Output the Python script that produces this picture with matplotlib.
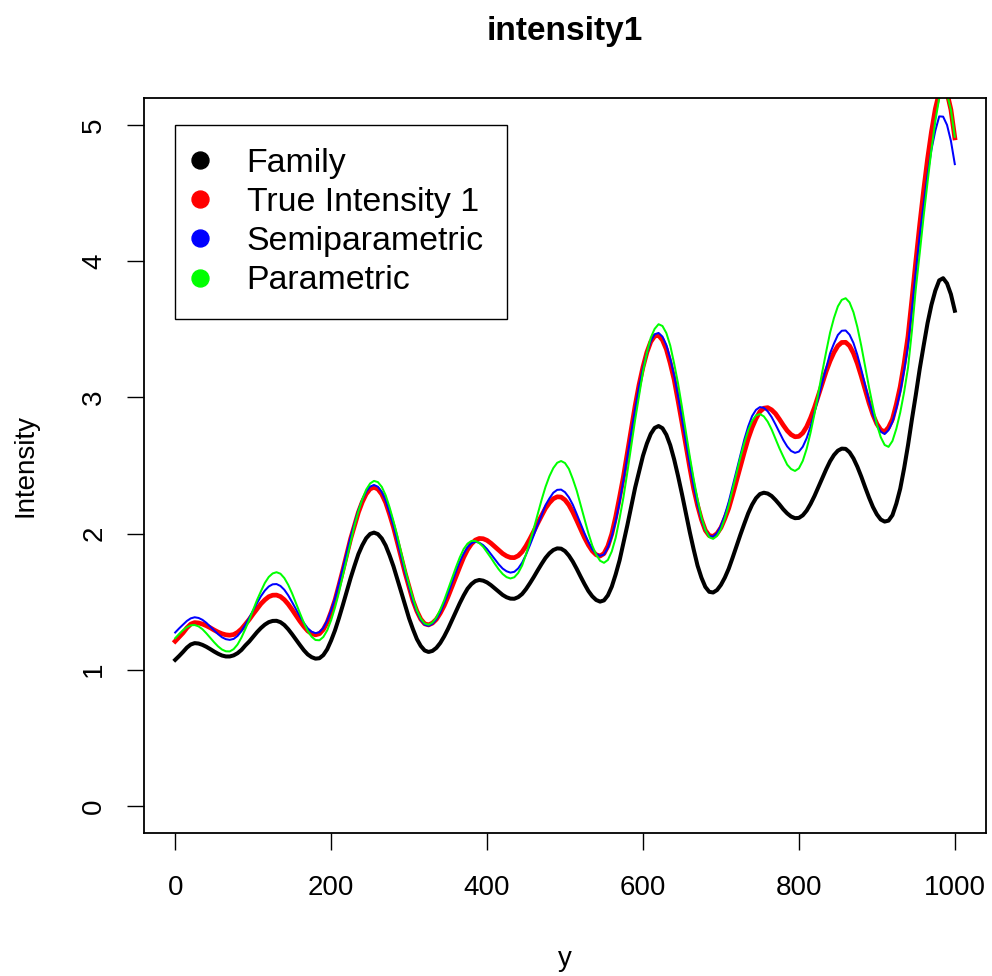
import matplotlib
matplotlib.use("Agg")
import matplotlib.pyplot as plt
from matplotlib.lines import Line2D

plt.rcParams['font.family'] = ['Liberation Sans', 'DejaVu Sans']

# Evaluation grid, step 5
y_grid = list(range(0, 1001, 5))

family = [
    1.072, 1.10, 1.13, 1.162, 1.185, 1.195, 1.192, 1.182, 1.168, 1.151,
    1.133, 1.117, 1.104, 1.097, 1.097, 1.105, 1.121, 1.145, 1.178, 1.207,
    1.242, 1.276, 1.306, 1.331, 1.349, 1.358, 1.359, 1.349, 1.328, 1.297,
    1.26, 1.22, 1.181, 1.143, 1.112, 1.092, 1.081, 1.084, 1.107, 1.15,
    1.214, 1.289, 1.378, 1.474, 1.574, 1.673, 1.763, 1.849, 1.914, 1.966,
    1.997, 2.007, 1.996, 1.964, 1.912, 1.84, 1.759, 1.665, 1.569, 1.472,
    1.377, 1.297, 1.225, 1.174, 1.141, 1.13, 1.138, 1.16, 1.196, 1.244,
    1.30, 1.363, 1.426, 1.488, 1.545, 1.595, 1.629, 1.651, 1.659, 1.654,
    1.641, 1.621, 1.597, 1.573, 1.549, 1.532, 1.522, 1.521, 1.533, 1.556,
    1.592, 1.635, 1.681, 1.73, 1.777, 1.821, 1.855, 1.879, 1.891, 1.889,
    1.871, 1.838, 1.794, 1.741, 1.684, 1.629, 1.578, 1.539, 1.512, 1.50,
    1.509, 1.546, 1.61, 1.70, 1.803, 1.931, 2.062, 2.199, 2.338, 2.455,
    2.571, 2.661, 2.732, 2.776, 2.79, 2.774, 2.726, 2.649, 2.545, 2.423,
    2.291, 2.15, 2.012, 1.884, 1.765, 1.676, 1.608, 1.572, 1.567, 1.585,
    1.623, 1.676, 1.742, 1.823, 1.907, 1.992, 2.072, 2.149, 2.212, 2.26,
    2.29, 2.30, 2.294, 2.276, 2.247, 2.214, 2.178, 2.148, 2.125, 2.113,
    2.115, 2.134, 2.169, 2.218, 2.276, 2.342, 2.409, 2.472, 2.531, 2.577,
    2.609, 2.624, 2.622, 2.597, 2.552, 2.491, 2.419, 2.34, 2.264, 2.195,
    2.141, 2.103, 2.088, 2.095, 2.135, 2.22, 2.33, 2.48, 2.65, 2.84,
    3.02, 3.21, 3.38, 3.545, 3.68, 3.785, 3.86, 3.876, 3.838, 3.758,
    3.637,
]

true_intensity = [
    1.209, 1.24, 1.27, 1.307, 1.335, 1.346, 1.343, 1.335, 1.323, 1.308,
    1.291, 1.276, 1.264, 1.256, 1.253, 1.258, 1.274, 1.299, 1.333, 1.369,
    1.409, 1.447, 1.484, 1.513, 1.536, 1.547, 1.548, 1.537, 1.514, 1.481,
    1.441, 1.398, 1.356, 1.318, 1.285, 1.265, 1.256, 1.264, 1.295, 1.348,
    1.424, 1.511, 1.618, 1.729, 1.844, 1.961, 2.058, 2.156, 2.232, 2.291,
    2.328, 2.34, 2.327, 2.289, 2.228, 2.142, 2.047, 1.936, 1.823, 1.709,
    1.607, 1.506, 1.43, 1.371, 1.337, 1.329, 1.342, 1.37, 1.415, 1.47,
    1.537, 1.61, 1.684, 1.755, 1.825, 1.882, 1.924, 1.952, 1.964, 1.962,
    1.95, 1.929, 1.904, 1.878, 1.853, 1.835, 1.824, 1.823, 1.837, 1.866,
    1.909, 1.961, 2.017, 2.076, 2.132, 2.186, 2.226, 2.256, 2.27, 2.268,
    2.247, 2.21, 2.158, 2.097, 2.034, 1.97, 1.916, 1.872, 1.844, 1.835,
    1.853, 1.908, 1.997, 2.122, 2.267, 2.419, 2.593, 2.768, 2.939, 3.093,
    3.223, 3.331, 3.409, 3.451, 3.456, 3.422, 3.354, 3.251, 3.132, 2.977,
    2.817, 2.651, 2.488, 2.332, 2.207, 2.103, 2.024, 1.985, 1.979, 2.0,
    2.043, 2.11, 2.186, 2.285, 2.388, 2.494, 2.599, 2.698, 2.779, 2.845,
    2.896, 2.921, 2.925, 2.909, 2.881, 2.84, 2.796, 2.756, 2.727, 2.711,
    2.714, 2.739, 2.785, 2.85, 2.926, 3.014, 3.104, 3.192, 3.268, 3.331,
    3.379, 3.404, 3.405, 3.379, 3.325, 3.249, 3.157, 3.058, 2.959, 2.873,
    2.806, 2.762, 2.747, 2.78, 2.84, 2.95, 3.08, 3.25, 3.45, 3.72,
    4.0, 4.27, 4.52, 4.75, 4.95, 5.12, 5.24, 5.28, 5.24, 5.114,
    4.907,
]

semiparametric = [
    1.273, 1.303, 1.33, 1.358, 1.377, 1.385, 1.38, 1.366, 1.344, 1.316,
    1.288, 1.261, 1.238, 1.224, 1.219, 1.226, 1.248, 1.283, 1.33, 1.381,
    1.436, 1.489, 1.54, 1.581, 1.611, 1.627, 1.629, 1.615, 1.587, 1.546,
    1.496, 1.444, 1.391, 1.344, 1.304, 1.279, 1.268, 1.276, 1.307, 1.361,
    1.437, 1.524, 1.632, 1.743, 1.858, 1.976, 2.074, 2.172, 2.248, 2.308,
    2.345, 2.357, 2.344, 2.305, 2.242, 2.154, 2.057, 1.943, 1.828, 1.711,
    1.607, 1.503, 1.426, 1.365, 1.33, 1.322, 1.337, 1.37, 1.421, 1.488,
    1.56, 1.639, 1.718, 1.792, 1.852, 1.9, 1.93, 1.94, 1.933, 1.915,
    1.886, 1.849, 1.811, 1.774, 1.743, 1.723, 1.713, 1.719, 1.744, 1.786,
    1.845, 1.915, 1.988, 2.065, 2.135, 2.209, 2.258, 2.3, 2.321, 2.323,
    2.304, 2.266, 2.212, 2.144, 2.073, 2.002, 1.938, 1.884, 1.85, 1.836,
    1.846, 1.896, 1.979, 2.092, 2.229, 2.393, 2.568, 2.742, 2.917, 3.081,
    3.213, 3.327, 3.414, 3.464, 3.474, 3.447, 3.385, 3.285, 3.16, 3.01,
    2.845, 2.674, 2.507, 2.35, 2.215, 2.103, 2.025, 1.983, 1.978, 2.004,
    2.058, 2.137, 2.233, 2.347, 2.464, 2.577, 2.691, 2.787, 2.863, 2.909,
    2.929, 2.924, 2.898, 2.856, 2.802, 2.744, 2.687, 2.64, 2.607, 2.593,
    2.602, 2.638, 2.701, 2.787, 2.891, 2.999, 3.112, 3.215, 3.324, 3.396,
    3.459, 3.49, 3.492, 3.461, 3.4, 3.312, 3.205, 3.09, 2.975, 2.876,
    2.8, 2.748, 2.731, 2.76, 2.82, 2.92, 3.04, 3.2, 3.38, 3.65,
    3.93, 4.19, 4.42, 4.635, 4.82, 4.96, 5.065, 5.063, 5.002, 4.885,
    4.714,
]

parametric = [
    1.231, 1.262, 1.29, 1.312, 1.326, 1.328, 1.318, 1.297, 1.267, 1.234,
    1.201, 1.171, 1.148, 1.135, 1.134, 1.151, 1.185, 1.236, 1.299, 1.366,
    1.439, 1.512, 1.576, 1.637, 1.681, 1.707, 1.716, 1.705, 1.673, 1.623,
    1.56, 1.487, 1.415, 1.345, 1.284, 1.242, 1.218, 1.216, 1.24, 1.289,
    1.363, 1.457, 1.566, 1.689, 1.813, 1.935, 2.059, 2.164, 2.252, 2.323,
    2.368, 2.387, 2.378, 2.343, 2.281, 2.193, 2.091, 1.981, 1.859, 1.736,
    1.626, 1.526, 1.436, 1.375, 1.339, 1.33, 1.346, 1.383, 1.441, 1.509,
    1.59, 1.672, 1.75, 1.824, 1.886, 1.926, 1.946, 1.946, 1.93, 1.903,
    1.862, 1.822, 1.778, 1.737, 1.703, 1.68, 1.67, 1.679, 1.711, 1.765,
    1.847, 1.938, 2.038, 2.144, 2.248, 2.343, 2.421, 2.481, 2.52, 2.533,
    2.518, 2.475, 2.401, 2.316, 2.211, 2.107, 2.002, 1.912, 1.845, 1.8,
    1.785, 1.806, 1.869, 1.969, 2.111, 2.267, 2.452, 2.644, 2.837, 3.013,
    3.188, 3.328, 3.439, 3.504, 3.538, 3.525, 3.473, 3.381, 3.249, 3.103,
    2.931, 2.75, 2.568, 2.402, 2.252, 2.118, 2.028, 1.973, 1.961, 1.982,
    2.033, 2.111, 2.208, 2.327, 2.444, 2.561, 2.667, 2.759, 2.828, 2.868,
    2.878, 2.861, 2.822, 2.765, 2.697, 2.627, 2.565, 2.506, 2.474, 2.46,
    2.479, 2.534, 2.623, 2.742, 2.879, 3.034, 3.188, 3.336, 3.476, 3.584,
    3.669, 3.717, 3.729, 3.698, 3.626, 3.517, 3.38, 3.227, 3.074, 2.932,
    2.801, 2.708, 2.651, 2.637, 2.68, 2.77, 2.89, 3.04, 3.22, 3.49,
    3.8, 4.06, 4.33, 4.58, 4.82, 5.03, 5.2, 5.27, 5.23, 5.112,
    4.915,
]

series_labels = ["Family", "True Intensity 1", "Semiparametric", "Parametric"]
series_colors = ["black", "#ff0000", "#0000ff", "#00ff00"]
series_widths = [2.9, 3.4, 1.45, 1.45]

x_ticks = [0, 200, 400, 600, 800, 1000]
y_ticks = [0, 1, 2, 3, 4, 5]

fig = plt.figure(figsize=(9.92, 9.76), dpi=100)
ax = fig.add_axes([144 / 992, 143 / 976, 842 / 992, 735 / 976])

for vals, col, lw in zip([family, true_intensity, semiparametric, parametric],
                         series_colors, series_widths):
    ax.plot(y_grid, vals, color=col, lw=lw, solid_joinstyle='round')

ax.set_xlim(-40, 1040)
ax.set_ylim(-0.2, 5.2)
ax.set_xticks(x_ticks)
ax.set_yticks(y_ticks)
ax.set_xticklabels([str(t) for t in x_ticks])
ax.set_yticklabels([str(t) for t in y_ticks], rotation=90, va='center')
ax.tick_params(direction='out', length=12.5, width=1.0, labelsize=20,
               color='black')
ax.tick_params(axis='x', pad=17.5)
ax.tick_params(axis='y', pad=14)
for sp in ax.spines.values():
    sp.set_linewidth(1.3)

ax.set_xlabel("y", fontsize=20, labelpad=33)
ax.set_ylabel("Intensity", fontsize=20, labelpad=31)
ax.text(0.5, 1.079, "intensity1", transform=ax.transAxes, ha='center',
        va='baseline', fontsize=24, fontweight='bold')

handles = [Line2D([], [], linestyle='none', marker='o', markersize=12.2,
                  color=c) for c in series_colors]
leg = ax.legend(handles, series_labels, loc='upper left',
                bbox_to_anchor=(31 / 842, (833 - 125) / 735),
                borderaxespad=0, fontsize=24.4, frameon=True, fancybox=False,
                edgecolor='black', framealpha=1, borderpad=0.68,
                handlelength=0.12, handletextpad=1.31, labelspacing=0.24)
leg.get_frame().set_linewidth(1.0)

fig.savefig("out.png", dpi=100)
